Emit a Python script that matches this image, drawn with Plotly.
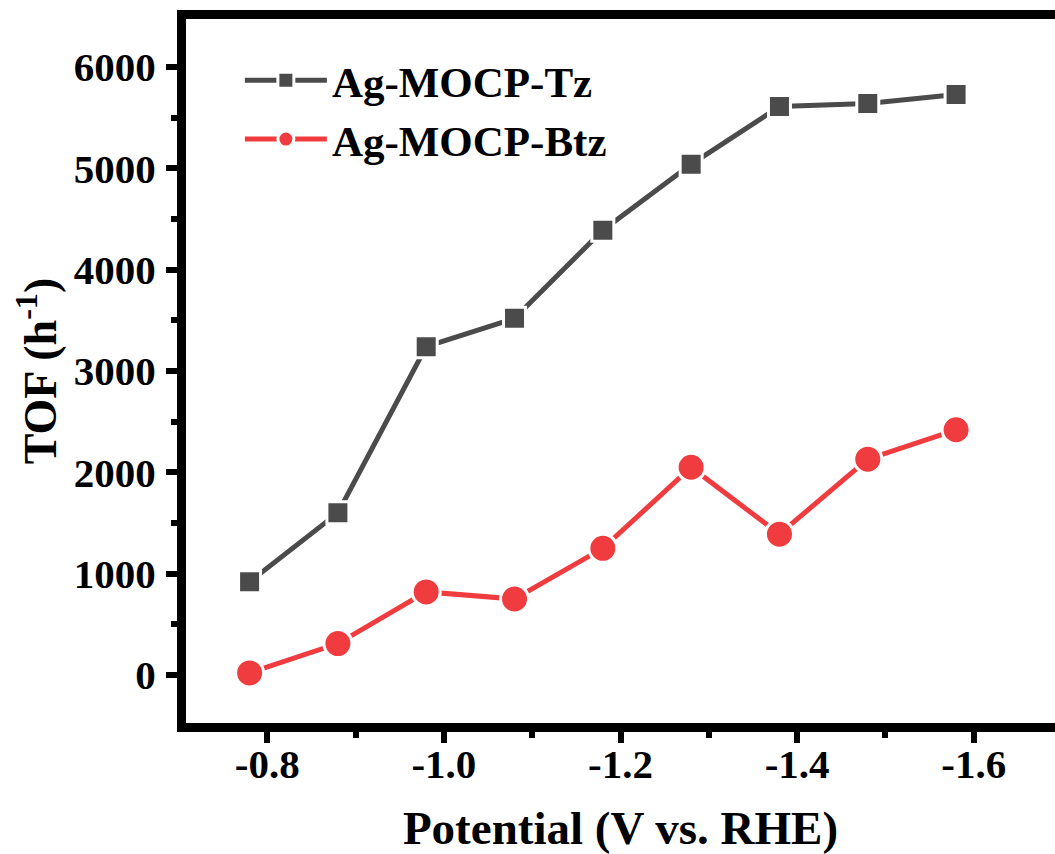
import plotly.graph_objects as go

potential = [-0.78, -0.88, -0.98, -1.08, -1.18, -1.28, -1.38, -1.48, -1.58]
tof_tz = [920, 1600, 3240, 3520, 4390, 5040, 5610, 5640, 5730]
tof_btz = [20, 310, 820, 750, 1250, 2050, 1390, 2130, 2420]
names = ["Ag-MOCP-Tz", "Ag-MOCP-Btz"]
colors = ["#4b4b4b", "#f03c3f"]

x_tickvals = [-0.8, -1.0, -1.2, -1.4, -1.6]
x_ticktext = ["-0.8", "-1.0", "-1.2", "-1.4", "-1.6"]
y_tickvals = [0, 1000, 2000, 3000, 4000, 5000, 6000]

FONT = "Liberation Serif"

fig = go.Figure()
fig.add_trace(go.Scatter(
    x=potential, y=tof_tz, name=names[0], mode="lines+markers",
    line=dict(color=colors[0], width=5),
    marker=dict(symbol="square", size=22, color=colors[0],
                line=dict(color="white", width=3)),
))
fig.add_trace(go.Scatter(
    x=potential, y=tof_btz, name=names[1], mode="lines+markers",
    line=dict(color=colors[1], width=5),
    marker=dict(symbol="circle", size=28, color=colors[1],
                line=dict(color="white", width=3)),
))

axis_common = dict(
    showline=True, linecolor="black", linewidth=9,
    ticks="outside", ticklen=11, tickwidth=6, tickcolor="black",
    showgrid=False, zeroline=False,
    tickfont=dict(family=FONT, size=41, color="black", weight="bold"),
)

fig.update_xaxes(
    **axis_common,
    range=[-0.708, -1.692],
    tickmode="array", tickvals=x_tickvals, ticktext=x_ticktext,
    mirror=True,
    minor=dict(ticks="outside", ticklen=6, tickwidth=6, tickcolor="black",
               tickmode="array", tickvals=[-0.7, -0.9, -1.1, -1.3, -1.5]),
    title=dict(text="Potential (V vs. RHE)",
               font=dict(family=FONT, size=47, color="black", weight="bold"), standoff=28),
    ticklabelstandoff=-14,
)
fig.update_yaxes(
    **axis_common,
    range=[-474, 6474],
    tickmode="array", tickvals=y_tickvals,
    minor=dict(ticks="outside", ticklen=6, tickwidth=6, tickcolor="black",
               tickmode="array", tickvals=[-500, 500, 1500, 2500, 3500, 4500, 5500, 6500]),
    title=dict(text="TOF (h<sup>-1</sup>)",
               font=dict(family=FONT, size=46, color="black", weight="bold"), standoff=6),
    ticklabelstandoff=2,
)

fig.update_layout(
    width=1055, height=854,
    margin=dict(l=186, r=0, t=19, b=131),
    plot_bgcolor="white", paper_bgcolor="white",
    font=dict(family=FONT, color="black"),
    showlegend=True,
    legend=dict(x=0.062, y=0.962, xanchor="left", yanchor="top",
                font=dict(family=FONT, size=43, color="black", weight="bold"),
                bgcolor="rgba(0,0,0,0)", itemwidth=82, tracegroupgap=0),
)

fig.write_html("out.html")
